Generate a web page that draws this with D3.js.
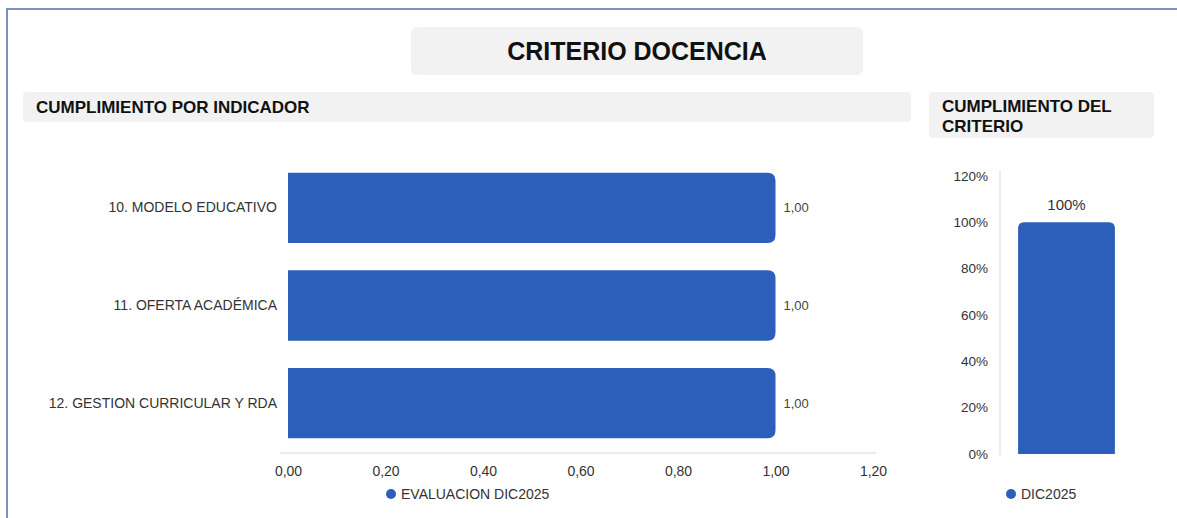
<!DOCTYPE html>
<html>
<head>
<meta charset="utf-8">
<script src="https://cdn.jsdelivr.net/npm/d3@7"></script>
<style>
  body { margin: 0; background: #fff; }
  svg { display: block; font-family: "Liberation Sans", Arial, sans-serif; }
</style>
</head>
<body>
<svg id="chart" width="1177" height="518"></svg>
<script>
// data
const indicators = ["10. MODELO EDUCATIVO", "11. OFERTA ACADÉMICA", "12. GESTION CURRICULAR Y RDA"];
const indicatorValues = [1.0, 1.0, 1.0];
const xTicks = [0, 0.2, 0.4, 0.6, 0.8, 1.0, 1.2];
const criterioPeriods = ["DIC2025"];
const criterioValues = [1.0];
const yTicks = [0, 0.2, 0.4, 0.6, 0.8, 1.0, 1.2];

const barColor = "#2c5fba";
const panelFill = "#f2f2f2";
const fmt2 = v => d3.format(".2f")(v).replace(".", ",");
const fmtPct = v => Math.round(v * 100) + "%";

const svg = d3.select("#chart");

// outer frame (only top and left edges visible)
svg.append("path")
    .attr("d", "M7,520 L7,9 L1180,9")
    .attr("fill", "none")
    .attr("stroke", "#4f6fae")
    .attr("stroke-width", 1.5);

// title box
svg.append("rect").attr("x", 411).attr("y", 27).attr("width", 452).attr("height", 48)
    .attr("rx", 6).attr("fill", panelFill);
svg.append("text").attr("x", 637).attr("y", 60).attr("text-anchor", "middle")
    .attr("font-size", 25).attr("font-weight", "bold").attr("fill", "#111")
    .text("CRITERIO DOCENCIA");

// left header
svg.append("rect").attr("x", 23).attr("y", 92).attr("width", 888).attr("height", 30)
    .attr("rx", 4).attr("fill", panelFill);
svg.append("text").attr("x", 36).attr("y", 113)
    .attr("font-size", 17).attr("font-weight", "bold").attr("fill", "#111")
    .text("CUMPLIMIENTO POR INDICADOR");

// right header
svg.append("rect").attr("x", 929).attr("y", 92).attr("width", 225).attr("height", 46)
    .attr("rx", 4).attr("fill", panelFill);
svg.append("text").attr("x", 942).attr("y", 112)
    .attr("font-size", 17).attr("font-weight", "bold").attr("fill", "#111")
    .text("CUMPLIMIENTO DEL");
svg.append("text").attr("x", 942).attr("y", 132)
    .attr("font-size", 17).attr("font-weight", "bold").attr("fill", "#111")
    .text("CRITERIO");

// ---- left: horizontal bars ----
const x = d3.scaleLinear().domain([0, 1.2]).range([288, 873]);
const y = d3.scaleBand().domain(indicators).range([159, 452]).paddingInner(0.28).paddingOuter(0.14);

// baseline axis
svg.append("line").attr("x1", 280).attr("x2", 876).attr("y1", 453).attr("y2", 453)
    .attr("stroke", "#e6e6e6").attr("stroke-width", 1.5);

const xAxis = svg.append("g").attr("transform", "translate(0,453)")
    .call(d3.axisBottom(x).tickValues(xTicks).tickFormat(fmt2).tickSize(0).tickPadding(13));
xAxis.select(".domain").remove();
xAxis.selectAll("text").attr("font-size", 14).attr("fill", "#333").attr("font-family", "Liberation Sans, Arial, sans-serif");

const yAxis = svg.append("g").attr("transform", "translate(277,0)")
    .call(d3.axisLeft(y).tickSize(0).tickPadding(0));
yAxis.select(".domain").remove();
yAxis.selectAll("text").attr("font-size", 14).attr("fill", "#333").attr("font-family", "Liberation Sans, Arial, sans-serif");

// bar with rounded right end
function hBarPath(x0, x1, y0, h, r) {
    return `M${x0},${y0} H${x1 - r} Q${x1},${y0} ${x1},${y0 + r} V${y0 + h - r} Q${x1},${y0 + h} ${x1 - r},${y0 + h} H${x0} Z`;
}

svg.append("g").selectAll("path")
    .data(indicators)
    .join("path")
    .attr("d", (d, i) => hBarPath(x(0), x(indicatorValues[i]), y(d), y.bandwidth(), 8))
    .attr("fill", barColor);

svg.append("g").selectAll("text")
    .data(indicators)
    .join("text")
    .attr("x", (d, i) => x(indicatorValues[i]) + 8)
    .attr("y", d => y(d) + y.bandwidth() / 2)
    .attr("dy", "0.35em")
    .attr("font-size", 13)
    .attr("fill", "#444")
    .text((d, i) => fmt2(indicatorValues[i]));

// legend left
svg.append("circle").attr("cx", 391).attr("cy", 494).attr("r", 5).attr("fill", barColor);
svg.append("text").attr("x", 401).attr("y", 494).attr("dy", "0.35em")
    .attr("font-size", 14).attr("fill", "#333").text("EVALUACION DIC2025");

// ---- right: vertical bar ----
const y2 = d3.scaleLinear().domain([0, 1.2]).range([454, 176]);
const x2 = d3.scaleBand().domain(criterioPeriods).range([1006, 1127]).paddingInner(0.2).paddingOuter(0.1);

svg.append("line").attr("x1", 1000).attr("x2", 1000).attr("y1", 170).attr("y2", 455)
    .attr("stroke", "#e6e6e6").attr("stroke-width", 1.5);

const y2Axis = svg.append("g").attr("transform", "translate(988,0)")
    .call(d3.axisLeft(y2).tickValues(yTicks).tickFormat(fmtPct).tickSize(0).tickPadding(0));
y2Axis.select(".domain").remove();
y2Axis.selectAll("text").attr("font-size", 13.5).attr("fill", "#333").attr("font-family", "Liberation Sans, Arial, sans-serif");

function vBarPath(x0, w, yTop, yBase, r) {
    return `M${x0},${yBase} V${yTop + r} Q${x0},${yTop} ${x0 + r},${yTop} H${x0 + w - r} Q${x0 + w},${yTop} ${x0 + w},${yTop + r} V${yBase} Z`;
}

svg.append("g").selectAll("path")
    .data(criterioPeriods)
    .join("path")
    .attr("d", (d, i) => vBarPath(x2(d), x2.bandwidth(), y2(criterioValues[i]), y2(0), 6))
    .attr("fill", barColor);

svg.append("g").selectAll("text")
    .data(criterioPeriods)
    .join("text")
    .attr("x", d => x2(d) + x2.bandwidth() / 2)
    .attr("y", (d, i) => y2(criterioValues[i]) - 12)
    .attr("text-anchor", "middle")
    .attr("font-size", 15)
    .attr("fill", "#333")
    .text((d, i) => fmtPct(criterioValues[i]));

// legend right
svg.append("circle").attr("cx", 1011).attr("cy", 494).attr("r", 5).attr("fill", barColor);
svg.append("text").attr("x", 1021).attr("y", 494).attr("dy", "0.35em")
    .attr("font-size", 14).attr("fill", "#333").text("DIC2025");
</script>
</body>
</html>
